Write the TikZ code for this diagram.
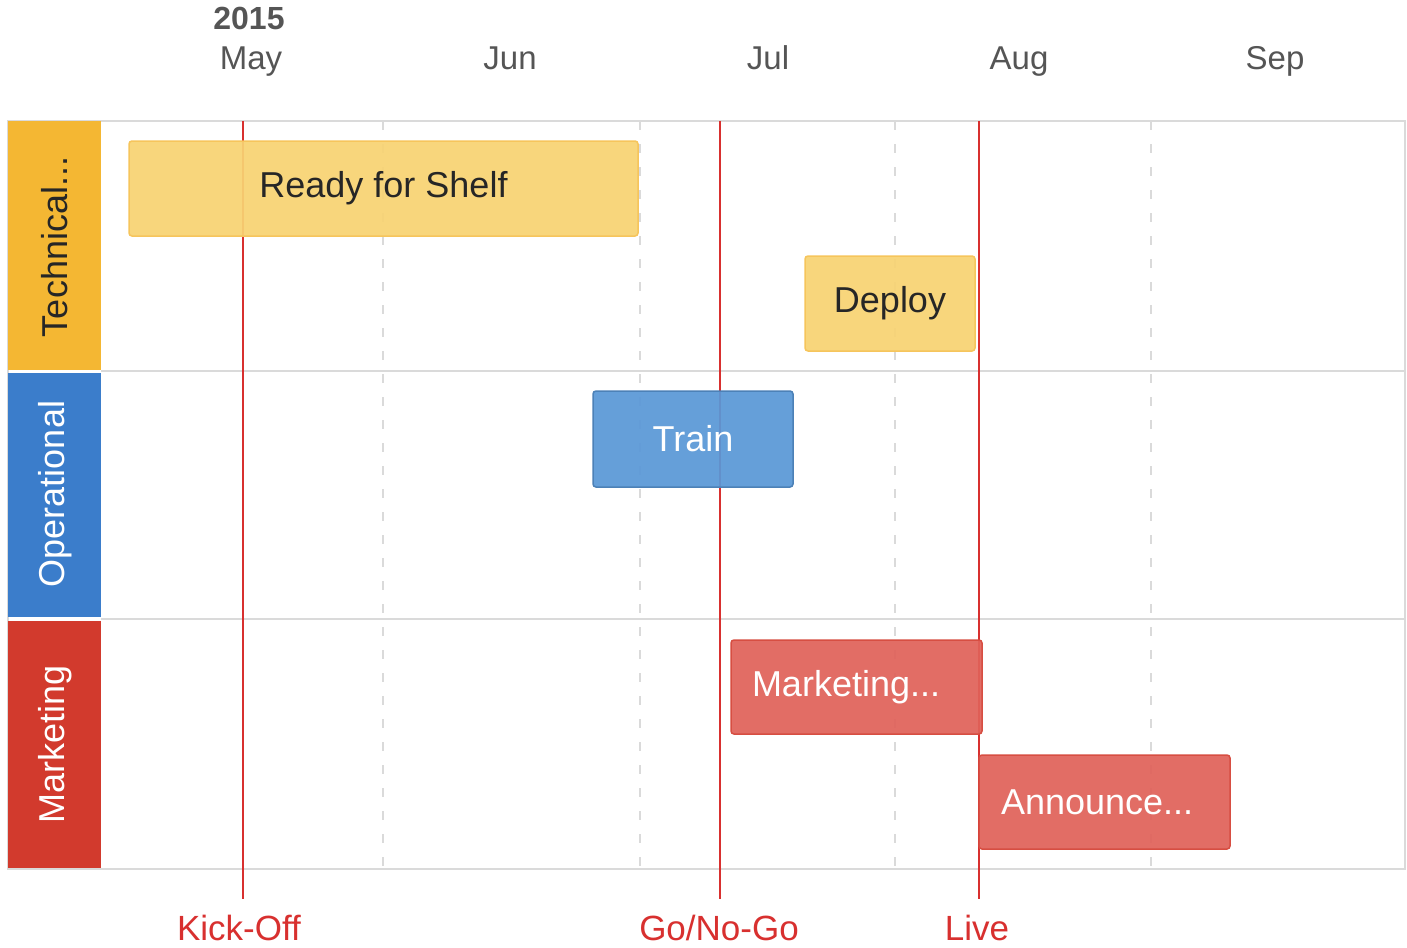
\documentclass[tikz,border=0pt]{standalone}
\usepackage{fontspec}
\setmainfont{Liberation Sans}
\usetikzlibrary{positioning}
\definecolor{techcol}{HTML}{F4B733}
\definecolor{opcol}{HTML}{3B7DCB}
\definecolor{mktcol}{HTML}{D23A2D}
\definecolor{techbar}{HTML}{F8D373}
\definecolor{opbar}{HTML}{5A98D7}
\definecolor{mktbar}{HTML}{E0625A}
\definecolor{milecol}{HTML}{D8302F}
\definecolor{gridcol}{HTML}{DADADA}
\definecolor{txtcol}{HTML}{555555}
\tikzset{
	big/.style={font=\fontsize{36}{40}\selectfont},
	month/.style={font=\fontsize{33}{38}\selectfont,text=txtcol,anchor=base},
	lane/.style={big,rotate=90,anchor=center},
	bar/.style={big,draw,rounded corners=3pt,line width=1.5pt,fill opacity=.93,text opacity=1,inner sep=0pt},
	milestone/.style={milecol,line width=2.5pt,shorten >=14pt},
	mlabel/.style={font=\fontsize{35}{40}\selectfont,text=milecol,inner sep=2pt},
	griddash/.style={gridcol,line width=1.5pt,dash pattern=on 9pt off 14pt}
}
\begin{document}
\begin{tikzpicture}[x=1pt,y=-1pt]
		\useasboundingbox[fill=white](0,0)rectangle(1407,947);
		% time axis
		\node[font=\bfseries\fontsize{32}{36}\selectfont,text=txtcol,anchor=base](year)at(249,30){2015};
		\foreach \m/\x in {May/251,Jun/510,Jul/768,Aug/1019,Sep/1275}
			\node[month](m\m)at(\x,70){\m};
		% grid
		\foreach \x in {383,640,895,1151}
			\draw[griddash](\x,121)--(\x,869);
		\draw[gridcol,line width=1.5pt](101,371)--(1405,371);
		\draw[gridcol,line width=1.5pt](101,619)--(1405,619);
		\draw[gridcol,line width=1.5pt](8,121)rectangle(1405,869);
		% lanes
		\fill[techcol](8,121)rectangle(101,370);
		\fill[opcol](8,373)rectangle(101,617);
		\fill[mktcol](8,621)rectangle(101,868);
		\node[lane,text=black!85](tech)at(55,247){Technical...};
		\node[lane,text=white](oper)at(55,494){Operational};
		\node[lane,text=white](mkt)at(55,744){Marketing};
		% milestones
		\node[mlabel](kickoff)at(239,928){Kick-Off};
		\node[mlabel](gonogo)at(719,928){Go/No-Go};
		\node[mlabel](live)at(977,928){Live};
		\coordinate(kotop)at(243,121);
		\coordinate(gotop)at(720,121);
		\coordinate(livetop)at(979,121);
		\draw[milestone](kotop)--(kotop|-kickoff.north);
		\draw[milestone](gotop)--(gotop|-gonogo.north);
		\draw[milestone](livetop)--(livetop|-live.north);
		% tasks
		\node[bar,draw=techcol!80,fill=techbar,text=black!85,minimum width=509pt,minimum height=95pt](shelf)at(383.5,188.5){Ready for Shelf};
		\node[bar,draw=techcol!80,fill=techbar,text=black!85,minimum width=170pt,minimum height=95pt](deploy)at(890,303.5){Deploy};
		\node[bar,draw=opbar!85!black,fill=opbar,text=white,minimum width=200pt,minimum height=96pt](train)at(693,439){Train};
		\node[bar,draw=mktcol!90,fill=mktbar,text=white,minimum width=251pt,minimum height=94pt,text width=209pt,align=left](mktg)at(856.5,687){Marketing...};
		\node[bar,draw=mktcol!90,fill=mktbar,text=white,minimum width=251pt,minimum height=94pt,text width=207pt,align=left](announce)at(1104.5,802){Announce...};
	    \end{tikzpicture}
\end{document}
